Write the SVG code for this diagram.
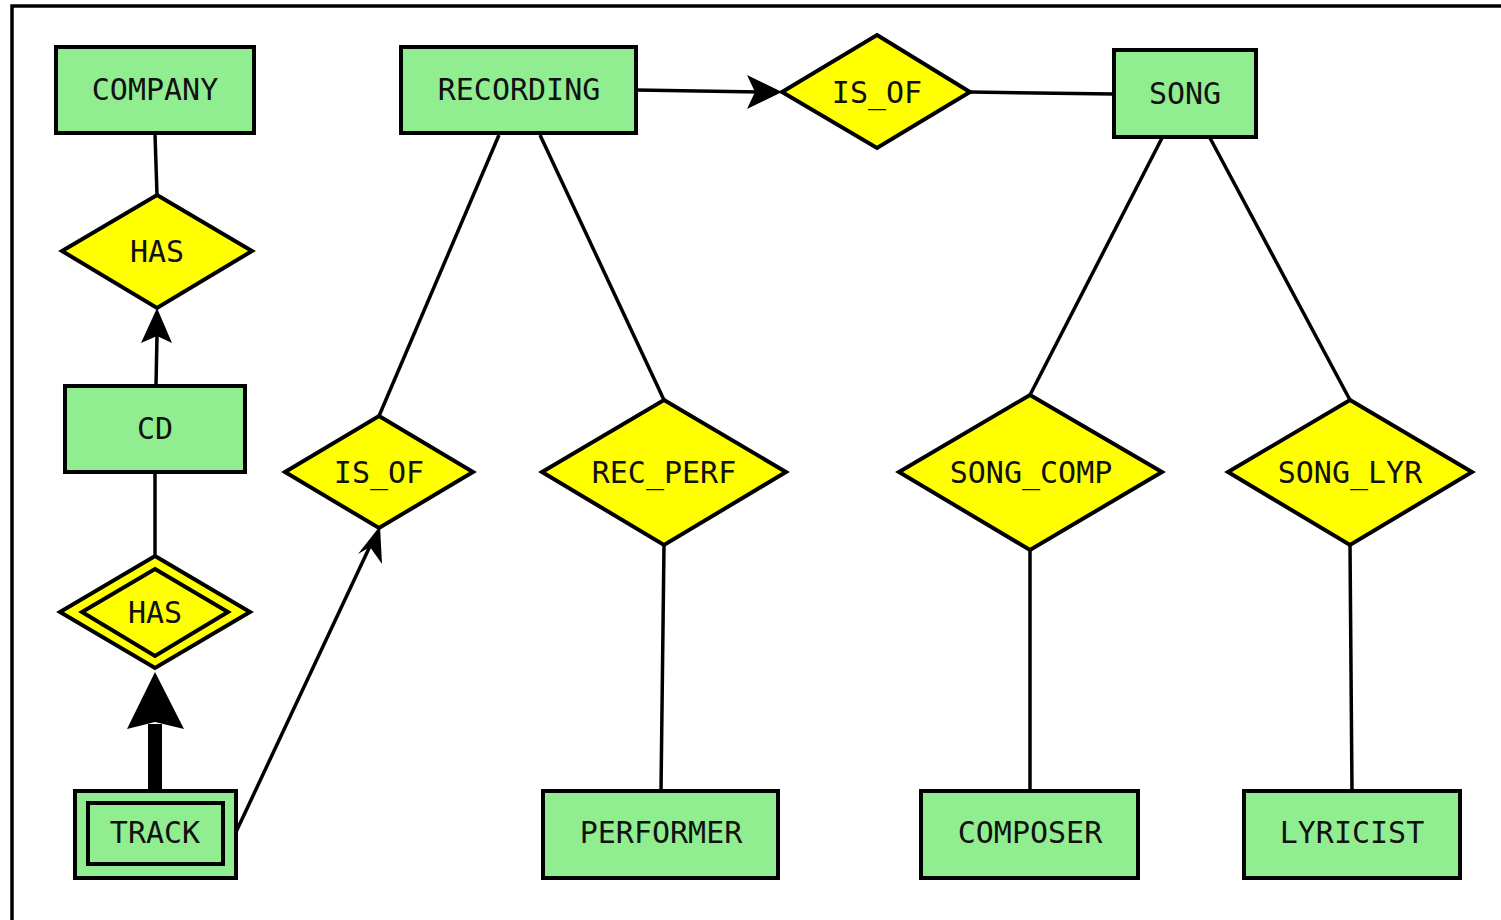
<svg xmlns="http://www.w3.org/2000/svg" width="1501" height="920" viewBox="0 0 1501 920">
<style>
.ent{fill:#90ee90;stroke:#000;stroke-width:4}
.rel{fill:#ffff00;stroke:#000;stroke-width:4;stroke-linejoin:miter}
.ln{stroke:#000;stroke-width:3.5;fill:none}
text{font-family:"DejaVu Sans Mono","Liberation Mono",monospace;font-size:30px;fill:#111;text-anchor:middle}
</style>
<rect x="0" y="0" width="1501" height="920" fill="#fff"/>
<path d="M12,920 V6 H1501" fill="none" stroke="#000" stroke-width="3.5"/>
<g id="connectors">
<line class="ln" x1="155" y1="134" x2="157" y2="195"/>
<line class="ln" x1="156" y1="385" x2="157" y2="336"/>
<path d="M157,308 L172,343 L157,336 L141,343 Z" fill="#000"/>
<line class="ln" x1="155" y1="473" x2="155" y2="556"/>
<rect x="148" y="724" width="14" height="66" fill="#000"/>
<path d="M155,672 L184,729 L155,722 L127,729 Z" fill="#000"/>
<line class="ln" x1="236" y1="832" x2="371" y2="544"/>
<path d="M380,526 L382,564 L370,547 L358,554 Z" fill="#000"/>
<line class="ln" x1="636" y1="90" x2="760" y2="92"/>
<path d="M782,92 L747,109 L755,92 L747,75 Z" fill="#000"/>
<line class="ln" x1="970" y1="92" x2="1114" y2="94"/>
<line class="ln" x1="499" y1="135" x2="379" y2="416"/>
<line class="ln" x1="540" y1="135" x2="664" y2="400"/>
<line class="ln" x1="664" y1="545" x2="661" y2="791"/>
<line class="ln" x1="1162" y1="138" x2="1030" y2="395"/>
<line class="ln" x1="1210" y1="138" x2="1350" y2="400"/>
<line class="ln" x1="1030" y1="550" x2="1030" y2="791"/>
<line class="ln" x1="1350" y1="545" x2="1352" y2="791"/>
</g>
<g id="company"><rect class="ent" x="56" y="47" width="198" height="86"/><text x="155" y="100">COMPANY</text></g>
<g id="has1"><polygon class="rel" points="157,195 252,251 157,308 62,251"/><text x="157" y="262">HAS</text></g>
<g id="cd"><rect class="ent" x="65" y="386" width="180" height="86"/><text x="155" y="439">CD</text></g>
<g id="has2"><polygon class="rel" points="155,556 250,612 155,668 60,612"/><polygon class="rel" points="155,569 228,612 155,656 82,612"/><text x="155" y="623">HAS</text></g>
<g id="track"><rect class="ent" x="75" y="791" width="161" height="87"/><rect class="ent" x="88" y="803" width="135" height="61"/><text x="155" y="843">TRACK</text></g>
<g id="recording"><rect class="ent" x="401" y="47" width="235" height="86"/><text x="519" y="100">RECORDING</text></g>
<g id="is_of1"><polygon class="rel" points="877,35 970,92 877,148 782,92"/><text x="877" y="103">IS_OF</text></g>
<g id="song"><rect class="ent" x="1114" y="50" width="142" height="87"/><text x="1185" y="104">SONG</text></g>
<g id="is_of2"><polygon class="rel" points="379,416 473,472 379,528 285,472"/><text x="379" y="483">IS_OF</text></g>
<g id="rec_perf"><polygon class="rel" points="664,400 786,472 664,545 542,472"/><text x="664" y="483">REC_PERF</text></g>
<g id="song_comp"><polygon class="rel" points="1030,395 1162,472 1030,550 899,472"/><text x="1031" y="483">SONG_COMP</text></g>
<g id="song_lyr"><polygon class="rel" points="1350,400 1472,472 1350,545 1228,472"/><text x="1350" y="483">SONG_LYR</text></g>
<g id="performer"><rect class="ent" x="543" y="791" width="235" height="87"/><text x="661" y="843">PERFORMER</text></g>
<g id="composer"><rect class="ent" x="921" y="791" width="217" height="87"/><text x="1030" y="843">COMPOSER</text></g>
<g id="lyricist"><rect class="ent" x="1244" y="791" width="216" height="87"/><text x="1352" y="843">LYRICIST</text></g>
</svg>
